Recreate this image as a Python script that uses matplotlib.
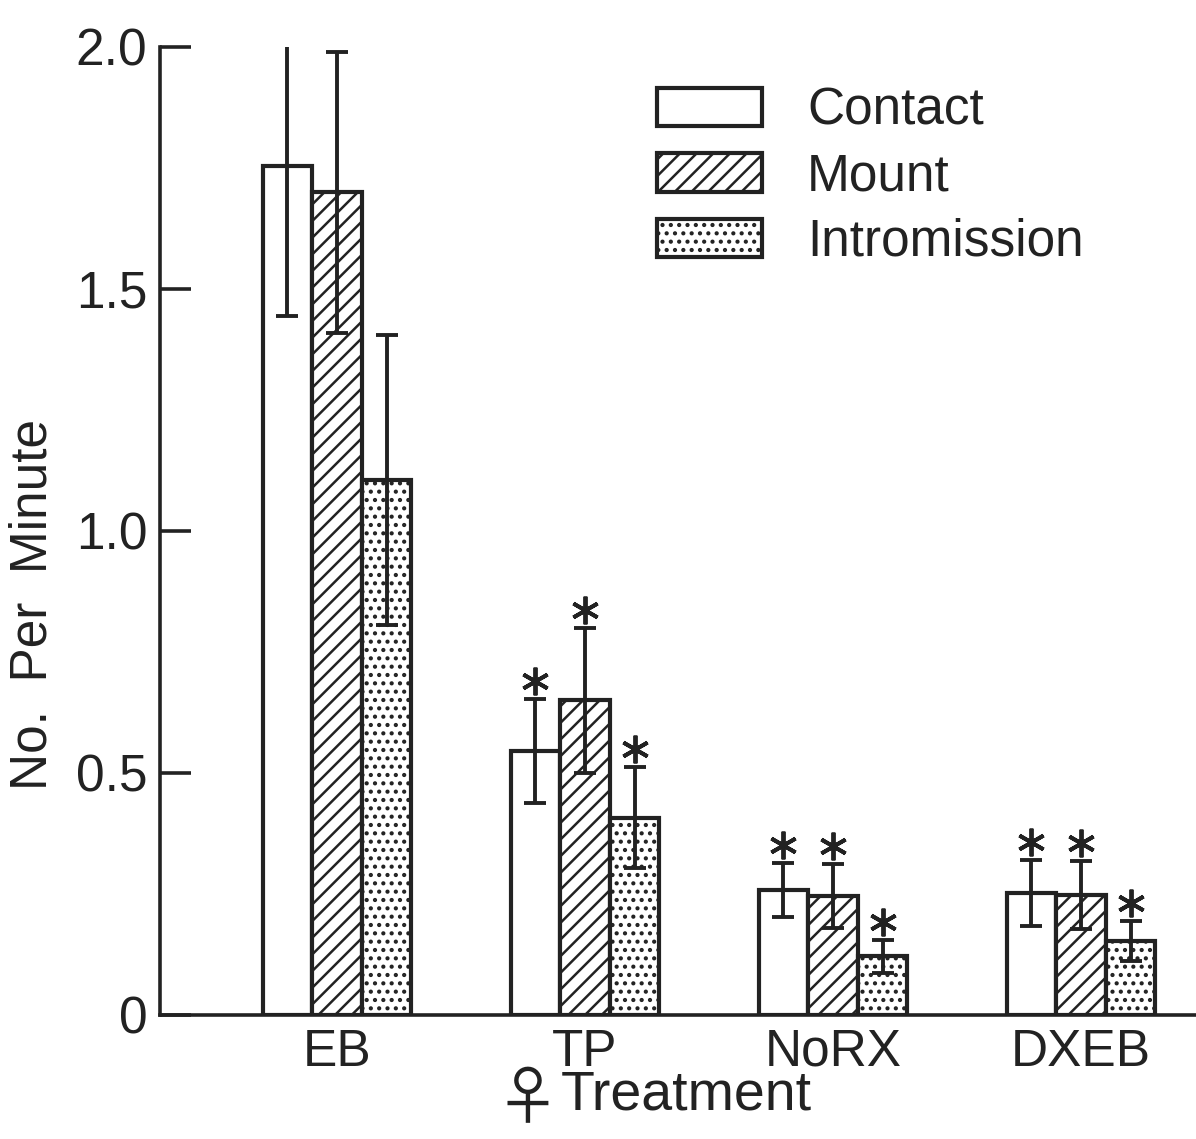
import numpy as np
import matplotlib
matplotlib.use('Agg')
import matplotlib.pyplot as plt

plt.rcParams['font.family'] = ['Liberation Sans', 'DejaVu Sans']
plt.rcParams['hatch.linewidth'] = 1.8

treatments = ['EB', 'TP', 'NoRX', 'DXEB']
behaviours = ['Contact', 'Mount', 'Intromission']

contact = [1.755, 0.545, 0.258, 0.252]
contact_err = [0.31, 0.108, 0.056, 0.068]
mount = [1.70, 0.65, 0.246, 0.248]
mount_err = [0.29, 0.15, 0.066, 0.07]
intromission = [1.105, 0.408, 0.121, 0.153]
intromission_err = [0.30, 0.104, 0.034, 0.041]

# significant vs EB (asterisk above the error bar)
signif = [[False, True, True, True],
          [False, True, True, True],
          [False, True, True, True]]

ink = '#222222'
fs = 37

fig = plt.figure(figsize=(11.96, 11.39), dpi=100)
ax = fig.add_axes([160 / 1196, 124 / 1139, 1036 / 1196, 968 / 1139])

x = np.arange(len(treatments))
w = 0.2
series = [(contact, contact_err, ''), (mount, mount_err, '//'),
          (intromission, intromission_err, '..')]

for i, (vals, errs, hatch) in enumerate(series):
    xs = x + (i - 1) * w
    ax.bar(xs, vals, w, color='white', edgecolor=ink, linewidth=3.0,
           hatch=hatch, label=behaviours[i], zorder=2)
    ax.errorbar(xs, vals, yerr=errs, fmt='none', ecolor=ink,
                elinewidth=2.8, capsize=8, capthick=2.8, zorder=3)
    for j in range(len(treatments)):
        if signif[i][j]:
            ax.plot(xs[j], vals[j] + errs[j] + 0.037, marker=(6, 2, 0),
                    ms=20, mew=2.8, color=ink, zorder=4)

ax.set_xlim(-0.714, 3.464)
ax.set_ylim(0, 2.0)

for s in ['top', 'right']:
    ax.spines[s].set_visible(False)
for s in ['left', 'bottom']:
    ax.spines[s].set_linewidth(2.6)
    ax.spines[s].set_color(ink)

ax.set_yticks([0, 0.5, 1.0, 1.5, 2.0])
ax.set_yticklabels(['0', '0.5', '1.0', '1.5', '2.0'])
ax.tick_params(axis='y', direction='in', length=22, width=2.6, pad=9,
               labelsize=fs, colors=ink)
ax.set_xticks(x)
ax.set_xticklabels(treatments)
ax.tick_params(axis='x', length=0, pad=9, labelsize=fs, colors=ink)

fig.text(33 / 1196, 1 - 605 / 1139, 'No.  Per  Minute', rotation=90,
         ha='center', va='center', fontsize=fs, color=ink)
fig.text(527 / 1196, 1 - 1101 / 1139, '\u2640', ha='center', va='center',
         fontsize=46, color=ink, family=['Noto Sans CJK JP', 'DejaVu Sans'])
fig.text(561 / 1196, 1 - 1110 / 1139, 'Treatment', ha='left',
         va='baseline', fontsize=fs + 3, color=ink)

leg = ax.legend(loc='upper left', bbox_to_anchor=(0.46, 0.98), frameon=False,
                fontsize=fs, handlelength=2.04, handleheight=0.78,
                labelspacing=0.32, handletextpad=0.88, borderaxespad=0)
for t in leg.get_texts():
    t.set_color(ink)

fig.savefig('out.png', dpi=100)
